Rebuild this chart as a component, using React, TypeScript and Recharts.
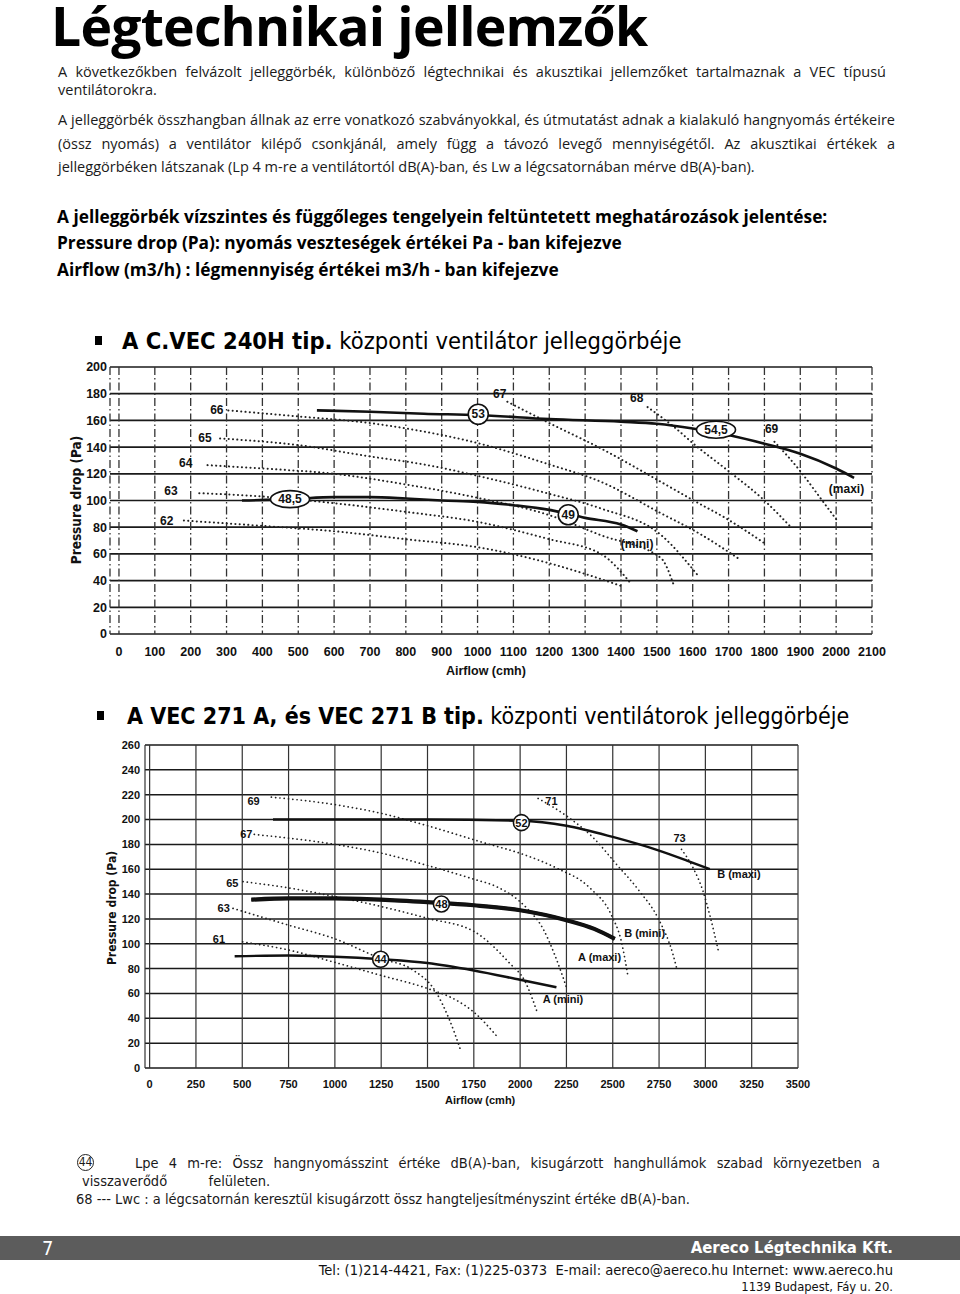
import React from 'react';
import { ComposedChart, Line, XAxis, YAxis, CartesianGrid, Scatter } from 'recharts';

type P = [number, number];
const pts = (a: P[]) => a.map(([x, y]) => ({ x, y }));

// ---------- Chart 1: C.VEC 240H ----------
const xTicks1 = [0, 100, 200, 300, 400, 500, 600, 700, 800, 900, 1000, 1100, 1200, 1300, 1400, 1500, 1600, 1700, 1800, 1900, 2000, 2100];
const yTicks1 = [0, 20, 40, 60, 80, 100, 120, 140, 160, 180, 200];

const maxi1: P[] = [[552, 167.5], [700, 166.5], [850, 165], [1000, 164], [1200, 161], [1400, 159], [1500, 157.5], [1600, 154], [1700, 149], [1800, 142.5], [1900, 135], [2000, 124], [2050, 117]];
const mini1: P[] = [[343, 100], [480, 101], [600, 102.5], [700, 102.5], [800, 101.5], [900, 100], [1000, 99], [1100, 96.5], [1200, 93], [1300, 87], [1400, 82], [1446, 77]];

const iso62a: P[] = [[181, 85], [400, 81], [600, 77], [800, 71], [1000, 65], [1200, 53], [1300, 45], [1400, 36]];
const iso63a: P[] = [[224, 105.5], [400, 103], [600, 98], [800, 91.5], [1000, 84], [1200, 71], [1344, 60], [1430, 37]];
const iso64a: P[] = [[247, 126.5], [400, 124], [600, 120], [800, 112], [1000, 102], [1200, 89], [1344, 74], [1511, 57], [1548, 36]];
const iso65a: P[] = [[282, 146.5], [500, 141.5], [700, 133], [850, 127], [1000, 118.5], [1200, 105], [1344, 94], [1511, 74.3], [1614, 44]];
const iso66a: P[] = [[305, 167.5], [500, 163], [700, 158], [800, 154], [1000, 143], [1200, 127], [1344, 114], [1511, 90.5], [1620, 75], [1725, 57]];
const iso67a: P[] = [[1083, 174], [1200, 158], [1344, 139], [1511, 114], [1600, 100.4], [1700, 85.5], [1800, 68]];
const iso68a: P[] = [[1474, 170], [1553, 154], [1600, 143], [1700, 122], [1800, 100], [1874, 80]];
const iso69a: P[] = [[1828, 144], [1900, 122], [1950, 104], [2000, 86]];

const isoLabels1 = [
  { x: 273, y: 168, label: '66' },
  { x: 240, y: 147, label: '65' },
  { x: 186, y: 128, label: '64' },
  { x: 145, y: 107, label: '63' },
  { x: 133, y: 85, label: '62' },
  { x: 1062, y: 180, label: '67' },
  { x: 1444, y: 176.6, label: '68' },
  { x: 1820, y: 153.4, label: '69' },
  { x: 2029, y: 108.5, label: '(maxi)' },
  { x: 1445, y: 67.6, label: '(mini)' },
];
const circles1 = [
  { x: 1002, y: 164.6, label: '53' },
  { x: 1253, y: 89.3, label: '49' },
];
const ovals1 = [
  { x: 477, y: 101, label: '48,5' },
  { x: 1665, y: 153, label: '54,5' },
];

// ---------- Chart 2: VEC 271 A / B ----------
const xTicks2 = [0, 250, 500, 750, 1000, 1250, 1500, 1750, 2000, 2250, 2500, 2750, 3000, 3250, 3500];
const yTicks2 = [0, 20, 40, 60, 80, 100, 120, 140, 160, 180, 200, 220, 240, 260];

const bMaxi: P[] = [[666, 200], [1000, 200], [1500, 200], [2000, 199], [2250, 195], [2500, 186], [2750, 175], [2900, 167], [3024, 160]];
const bMini: P[] = [[549, 135.5], [750, 136.5], [1000, 136.5], [1250, 135.5], [1500, 133.5], [1750, 131], [2000, 127], [2250, 119], [2400, 112], [2511, 104]];
const aMaxi: P[] = [[549, 135.5], [750, 136.5], [1000, 136.5], [1250, 135.5], [1500, 133.5], [1750, 131], [2000, 127], [2250, 119], [2400, 112], [2511, 104]];
const aMini: P[] = [[459, 90], [750, 90.5], [1000, 89.5], [1250, 87.5], [1500, 84.5], [1750, 78.5], [2000, 71], [2196, 65]];

const iso61b: P[] = [[502, 101.5], [750, 95], [1000, 85], [1250, 74.5], [1500, 64], [1650, 55], [1750, 45], [1872, 26]];
const iso63b: P[] = [[450, 128.5], [750, 115], [1000, 104], [1250, 88], [1420, 79], [1546, 61], [1618, 39], [1681, 13.5]];
const iso65b: P[] = [[504, 150], [750, 145], [1000, 138], [1250, 130], [1500, 120.5], [1750, 110], [1939, 85], [2029, 69], [2093, 44.5]];
const iso67b: P[] = [[565, 188], [1000, 180], [1250, 173], [1500, 163], [1750, 152], [1872, 146], [2034, 129], [2124, 112], [2187, 91], [2250, 65]];
const iso69b: P[] = [[657, 218], [1000, 212], [1250, 205], [1500, 195], [1800, 181.5], [2016, 172], [2196, 161], [2376, 145], [2493, 123], [2547, 101.5], [2583, 73]];
const iso71b: P[] = [[2097, 217], [2259, 202], [2394, 185.5], [2520, 164], [2646, 142], [2745, 120.5], [2826, 91], [2844, 81]];
const iso73b: P[] = [[2871, 176], [2934, 161], [2988, 142], [3024, 123], [3069, 95]];

const isoLabels2 = [
  { x: 561, y: 215, label: '69' },
  { x: 522, y: 188, label: '67' },
  { x: 446, y: 149, label: '65' },
  { x: 400, y: 128.6, label: '63' },
  { x: 374, y: 103.7, label: '61' },
  { x: 2169, y: 215, label: '71' },
  { x: 2861, y: 185.4, label: '73' },
  { x: 3181, y: 156, label: 'B (maxi)' },
  { x: 2672, y: 108.6, label: 'B (mini)' },
  { x: 2429, y: 89.7, label: 'A (maxi)' },
  { x: 2231, y: 55.7, label: 'A (mini)' },
];
const circles2 = [
  { x: 2007, y: 197.5, label: '52' },
  { x: 1575, y: 132, label: '48' },
  { x: 1247, y: 87.5, label: '44' },
];

// ---------- styles ----------
const NARROW = '"Liberation Sans Narrow", "DejaVu Sans Condensed", "Liberation Sans", sans-serif';
const SANS = '"Liberation Sans", Arial, sans-serif';
const BODY = '"Open Sans", "Noto Sans", sans-serif';
const INK = '#111';

const makeText = (size: number) => (props: any) => {
  const { cx, cy, payload } = props;
  return (
    <text x={cx} y={cy} textAnchor="middle" dominantBaseline="central" fontSize={size} fontWeight={700} fill={INK} fontFamily={SANS}>
      {payload.label}
    </text>
  );
};
const makeBadge = (rx: number, ry: number, size: number) => (props: any) => {
  const { cx, cy, payload } = props;
  return (
    <g>
      <ellipse cx={cx} cy={cy} rx={rx} ry={ry} fill="#fff" stroke={INK} strokeWidth={1.6} />
      <text x={cx} y={cy} textAnchor="middle" dominantBaseline="central" fontSize={size} fontWeight={700} fill={INK} fontFamily={SANS}>
        {payload.label}
      </text>
    </g>
  );
};

const dotted = { stroke: '#222', strokeWidth: 2, strokeDasharray: '0.1 4.2', strokeLinecap: 'round' as const };

function Chart1() {
  return (
    <ComposedChart width={900} height={370} margin={{ top: 37, right: 28, bottom: 36, left: 70 }}>
      <CartesianGrid vertical={false} stroke="#1a1a1a" strokeWidth={1.7} />
      <CartesianGrid horizontal={false} stroke="#333" strokeWidth={1.3} strokeDasharray="8 3 1.5 3" />
      <XAxis type="number" dataKey="x" domain={[-25, 2100]} ticks={xTicks1} axisLine={false} tickLine={false} tickSize={0} tickMargin={13} height={30}
        tick={{ fontSize: 12.5, fontWeight: 700, fill: INK, fontFamily: SANS }} interval={0} allowDataOverflow />
      <YAxis type="number" dataKey="y" domain={[0, 200]} ticks={yTicks1} axisLine={false} tickLine={false} tickSize={0} tickMargin={3} width={40}
        tick={{ fontSize: 12.5, fontWeight: 700, fill: INK, fontFamily: SANS }} interval={0} allowDataOverflow />
      <Line data={pts(iso62a)} dataKey="y" type="monotone" dot={false} isAnimationActive={false} {...dotted} />
      <Line data={pts(iso63a)} dataKey="y" type="monotone" dot={false} isAnimationActive={false} {...dotted} />
      <Line data={pts(iso64a)} dataKey="y" type="monotone" dot={false} isAnimationActive={false} {...dotted} />
      <Line data={pts(iso65a)} dataKey="y" type="monotone" dot={false} isAnimationActive={false} {...dotted} />
      <Line data={pts(iso66a)} dataKey="y" type="monotone" dot={false} isAnimationActive={false} {...dotted} />
      <Line data={pts(iso67a)} dataKey="y" type="monotone" dot={false} isAnimationActive={false} {...dotted} />
      <Line data={pts(iso68a)} dataKey="y" type="monotone" dot={false} isAnimationActive={false} {...dotted} />
      <Line data={pts(iso69a)} dataKey="y" type="monotone" dot={false} isAnimationActive={false} {...dotted} />
      <Line data={pts(maxi1)} dataKey="y" type="monotone" dot={false} isAnimationActive={false} stroke={INK} strokeWidth={2.6} />
      <Line data={pts(mini1)} dataKey="y" type="monotone" dot={false} isAnimationActive={false} stroke={INK} strokeWidth={2.6} />
      <Scatter data={isoLabels1} shape={makeText(12)} isAnimationActive={false} />
      <Scatter data={circles1} shape={makeBadge(10, 10, 12)} isAnimationActive={false} />
      <Scatter data={ovals1} shape={makeBadge(19.5, 8.5, 12)} isAnimationActive={false} />
    </ComposedChart>
  );
}

function Chart2() {
  return (
    <ComposedChart width={840} height={410} margin={{ top: 25, right: 42, bottom: 32, left: 105 }}>
      <CartesianGrid vertical={false} stroke="#1a1a1a" strokeWidth={1.5} />
      <CartesianGrid horizontal={false} stroke="#333" strokeWidth={1.2} />
      <XAxis type="number" dataKey="x" domain={[-25, 3500]} ticks={xTicks2} axisLine={false} tickLine={false} tickSize={0} tickMargin={12} height={30}
        tick={{ fontSize: 11, fontWeight: 700, fill: INK, fontFamily: SANS }} interval={0} allowDataOverflow />
      <YAxis type="number" dataKey="y" domain={[0, 260]} ticks={yTicks2} axisLine={false} tickLine={false} tickSize={0} tickMargin={5} width={40}
        tick={{ fontSize: 11, fontWeight: 700, fill: INK, fontFamily: SANS }} interval={0} allowDataOverflow />
      <Line data={pts(iso61b)} dataKey="y" type="monotone" dot={false} isAnimationActive={false} {...dotted} strokeWidth={1.7} />
      <Line data={pts(iso63b)} dataKey="y" type="monotone" dot={false} isAnimationActive={false} {...dotted} strokeWidth={1.7} />
      <Line data={pts(iso65b)} dataKey="y" type="monotone" dot={false} isAnimationActive={false} {...dotted} strokeWidth={1.7} />
      <Line data={pts(iso67b)} dataKey="y" type="monotone" dot={false} isAnimationActive={false} {...dotted} strokeWidth={1.7} />
      <Line data={pts(iso69b)} dataKey="y" type="monotone" dot={false} isAnimationActive={false} {...dotted} strokeWidth={1.7} />
      <Line data={pts(iso71b)} dataKey="y" type="monotone" dot={false} isAnimationActive={false} {...dotted} strokeWidth={1.7} />
      <Line data={pts(iso73b)} dataKey="y" type="monotone" dot={false} isAnimationActive={false} {...dotted} strokeWidth={1.7} />
      <Line data={pts(bMaxi)} dataKey="y" type="monotone" dot={false} isAnimationActive={false} stroke={INK} strokeWidth={2.4} />
      <Line data={pts(aMaxi)} dataKey="y" type="monotone" dot={false} isAnimationActive={false} stroke={INK} strokeWidth={4.2} />
      <Line data={pts(bMini)} dataKey="y" type="monotone" dot={false} isAnimationActive={false} stroke={INK} strokeWidth={3} />
      <Line data={pts(aMini)} dataKey="y" type="monotone" dot={false} isAnimationActive={false} stroke={INK} strokeWidth={2.4} />
      <Scatter data={isoLabels2} shape={makeText(11)} isAnimationActive={false} />
      <Scatter data={circles2} shape={makeBadge(8, 8, 11)} isAnimationActive={false} />
    </ComposedChart>
  );
}

const abs = (left: number, top: number, extra: React.CSSProperties = {}): React.CSSProperties => ({ position: 'absolute', left, top, ...extra });

export default function App() {
  const justified = (w: number): React.CSSProperties => ({ width: w, textAlign: 'justify', textAlignLast: 'justify', whiteSpace: 'nowrap' });
  const para: React.CSSProperties = { fontSize: 14.5, lineHeight: '20px' };
  const bold: React.CSSProperties = { fontSize: 17.3, fontWeight: 700, lineHeight: '22px', color: '#000', whiteSpace: 'nowrap' };
  return (
    <div style={{ position: 'absolute', left: 0, top: 0, width: 960, height: 1294, background: '#fff', overflow: 'hidden', fontFamily: BODY, color: '#1a1a1a' }}>
      <div style={abs(51, 4, { fontSize: 53.5, fontWeight: 700, lineHeight: '44px', color: '#000', letterSpacing: -0.8, whiteSpace: 'nowrap' })}>Légtechnikai jellemzők</div>

      <div style={abs(58, 62, { ...para, ...justified(828) })}>A következőkben felvázolt jelleggörbék, különböző légtechnikai és akusztikai jellemzőket tartalmaznak a VEC típusú</div>
      <div style={abs(58, 80, para)}>ventilátorokra.</div>

      <div style={abs(58, 110, { ...para, ...justified(837) })}>A jelleggörbék összhangban állnak az erre vonatkozó szabványokkal, és útmutatást adnak a kialakuló hangnyomás értékeire</div>
      <div style={abs(58, 134, { ...para, ...justified(837) })}>(össz nyomás) a ventilátor kilépő csonkjánál, amely függ a távozó levegő mennyiségétől. Az akusztikai értékek a</div>
      <div style={abs(58, 157, { ...para, whiteSpace: 'nowrap' })}>jelleggörbéken látszanak (Lp 4 m-re a ventilátortól dB(A)-ban, és Lw a légcsatornában mérve dB(A)-ban).</div>

      <div style={abs(57, 206, bold)}>A jelleggörbék vízszintes és függőleges tengelyein feltüntetett meghatározások jelentése:</div>
      <div style={abs(57, 232, bold)}>Pressure drop (Pa): nyomás veszteségek értékei Pa - ban kifejezve</div>
      <div style={abs(57, 259, bold)}>Airflow (m3/h) : légmennyiség értékei m3/h - ban kifejezve</div>

      <div style={abs(95, 336, { width: 7, height: 9, background: '#000' })} />
      <div style={abs(122, 326, { fontSize: 23.5, lineHeight: '30px', fontFamily: NARROW, color: '#000', whiteSpace: 'nowrap' })}>
        <b>A C.VEC 240H tip.</b> központi ventilátor jelleggörbéje
      </div>

      <div style={abs(0, 330)}><Chart1 /></div>
      <div style={abs(76, 500, { transform: 'translate(-50%, -50%) rotate(-90deg)', fontSize: 13.5, fontWeight: 700, fontFamily: NARROW, whiteSpace: 'nowrap', color: INK })}>Pressure drop (Pa)</div>
      <div style={abs(446, 664, { fontSize: 12.5, fontWeight: 700, fontFamily: SANS, whiteSpace: 'nowrap', color: INK })}>Airflow (cmh)</div>

      <div style={abs(97, 711, { width: 7, height: 9, background: '#000' })} />
      <div style={abs(127, 701, { fontSize: 23, lineHeight: '30px', fontFamily: NARROW, color: '#000', whiteSpace: 'nowrap' })}>
        <b>A VEC 271 A, és VEC 271 B tip.</b> központi ventilátorok jelleggörbéje
      </div>

      <div style={abs(0, 720)}><Chart2 /></div>
      <div style={abs(112, 908, { transform: 'translate(-50%, -50%) rotate(-90deg)', fontSize: 12, fontWeight: 700, fontFamily: NARROW, whiteSpace: 'nowrap', color: INK })}>Pressure drop (Pa)</div>
      <div style={abs(445, 1094, { fontSize: 11, fontWeight: 700, fontFamily: SANS, whiteSpace: 'nowrap', color: INK })}>Airflow (cmh)</div>

      <div style={abs(77, 1154, { width: 17, height: 17, border: '1.3px solid #222', borderRadius: '50%', fontSize: 12, lineHeight: '15px', textAlign: 'center', fontFamily: NARROW, boxSizing: 'border-box' })}>44</div>
      <div style={abs(135, 1154, { fontSize: 14.5, lineHeight: '18px', fontFamily: NARROW, ...justified(745) })}>Lpe 4 m-re: Össz hangnyomásszint értéke dB(A)-ban, kisugárzott hanghullámok szabad környezetben a</div>
      <div style={abs(82, 1172, { fontSize: 14.5, lineHeight: '18px', fontFamily: NARROW, whiteSpace: 'pre' })}>visszaverődő          felületen.</div>
      <div style={abs(76, 1190, { fontSize: 14.5, lineHeight: '18px', fontFamily: NARROW, whiteSpace: 'nowrap' })}>68 --- Lwc : a légcsatornán keresztül kisugárzott össz hangteljesítményszint értéke dB(A)-ban.</div>

      <div style={abs(0, 1236, { width: 960, height: 24, background: '#5c5c5c' })} />
      <div style={abs(42, 1235, { fontSize: 20, lineHeight: '26px', color: '#fff', fontFamily: NARROW })}>7</div>
      <div style={abs(0, 1236, { width: 893, textAlign: 'right', fontSize: 16.6, lineHeight: '24px', fontWeight: 700, color: '#fff', fontFamily: NARROW })}>Aereco Légtechnika Kft.</div>
      <div style={abs(0, 1261, { width: 893, textAlign: 'right', fontSize: 14.6, lineHeight: '18px', color: '#111', fontFamily: NARROW, whiteSpace: 'pre' })}>Tel: (1)214-4421, Fax: (1)225-0373  E-mail: aereco@aereco.hu Internet: www.aereco.hu</div>
      <div style={abs(0, 1279, { width: 893, textAlign: 'right', fontSize: 12.9, lineHeight: '16px', color: '#111', fontFamily: NARROW })}>1139 Budapest, Fáy u. 20.</div>
    </div>
  );
}
